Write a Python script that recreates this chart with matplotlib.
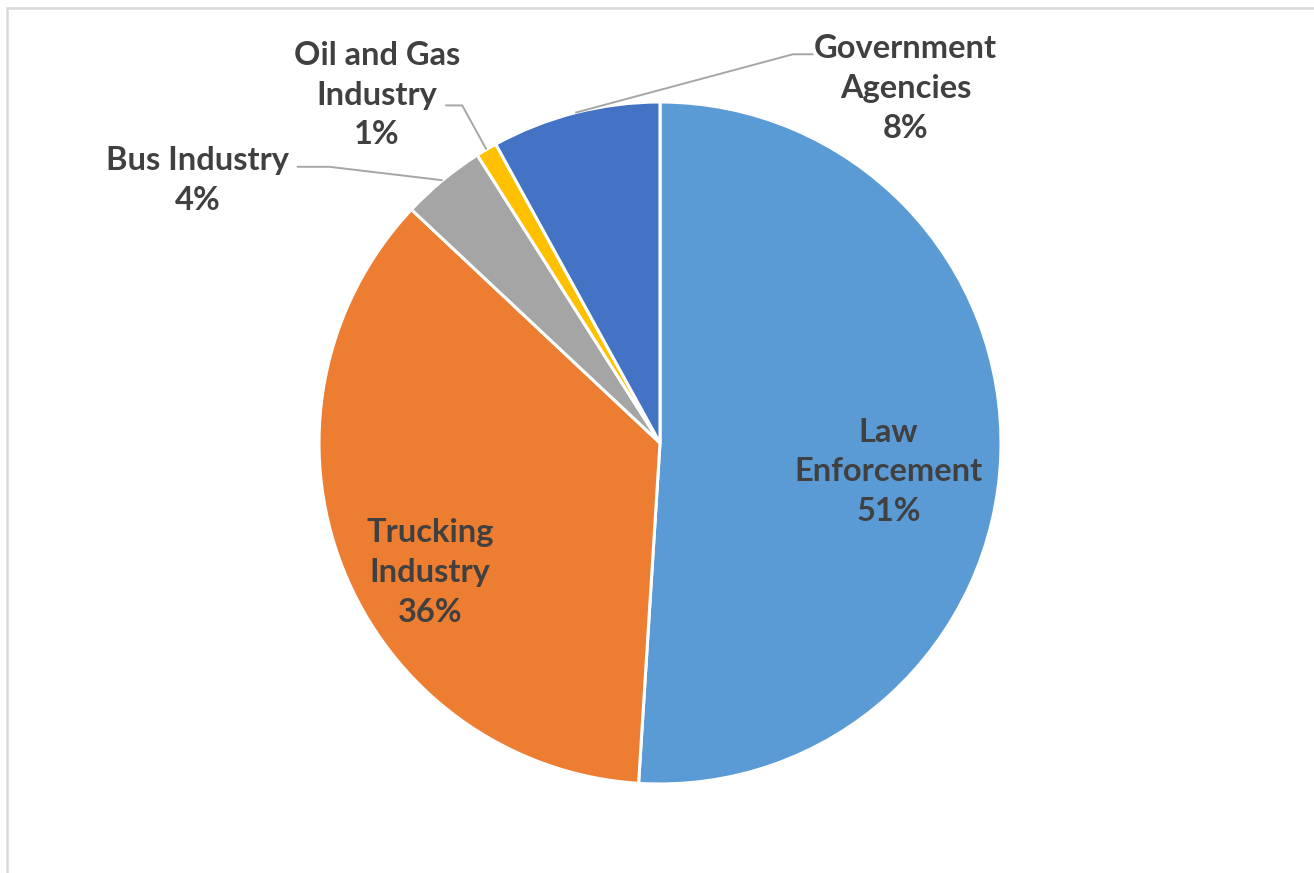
import numpy as np
import matplotlib.pyplot as plt
from matplotlib.patches import Rectangle

labels = ["Law\nEnforcement", "Trucking\nIndustry", "Bus Industry", "Oil and Gas\nIndustry", "Government\nAgencies"]
shares = [51, 36, 4, 1, 8]
colors = ["#5B9BD5", "#ED7D31", "#A5A5A5", "#FFC000", "#4472C4"]

# label centres in pie-radius units, relative to the pie centre
label_pos = [(0.67, -0.085), (-0.675, -0.38), (-1.355, 0.77), (-0.83, 1.02), (0.72, 1.04)]
outside = [False, False, True, True, True]

W, H = 1314, 873
cx, cy, r = 660, 443, 341

fig = plt.figure(figsize=(W / 100, H / 100), dpi=100)
ax = fig.add_axes([0, 0, 1, 1])

wedges, _ = ax.pie(shares, colors=colors, startangle=90, counterclock=False,
                   radius=1, center=(0, 0),
                   wedgeprops=dict(edgecolor="white", linewidth=2.2))
ax.set_aspect("auto")
ax.set_xlim(-cx / r, (W - cx) / r)
ax.set_ylim(-(H - cy) / r, cy / r)
ax.axis("off")

txt = dict(fontsize=23.5, fontweight="bold", color="#404040", family=["Lato", "DejaVu Sans"],
           ha="center", va="center", linespacing=1.45)

total = sum(shares)
for w, lab, v, (lx, ly), out in zip(wedges, labels, shares, label_pos, outside):
    s = f"{lab}\n{round(v / total * 100)}%"
    ax.text(lx, ly, s, **txt)
    if out:
        ang = np.deg2rad((w.theta1 + w.theta2) / 2)
        ax_, ay_ = np.cos(ang), np.sin(ang)
        if lab.startswith("Bus"):
            pts = [(-1.065, 0.81), (-0.97, 0.81), (ax_, ay_)]
        elif lab.startswith("Oil"):
            pts = [(-0.63, 0.99), (-0.58, 0.99), (ax_, ay_)]
        else:
            pts = [(0.45, 1.14), (0.39, 1.14), (ax_, ay_)]
        xs, ys = zip(*pts)
        ax.plot(xs, ys, color="#A6A6A6", lw=1.4, solid_capstyle="butt")

# chart area border (cropped on right and bottom)
fig.patches.append(Rectangle((7 / W, -0.1), 2.0, 1.1 - 8 / H, transform=fig.transFigure,
                             fill=False, edgecolor="#D9D9D9", lw=1.8))

fig.savefig("out.png", dpi=100, facecolor="white")
